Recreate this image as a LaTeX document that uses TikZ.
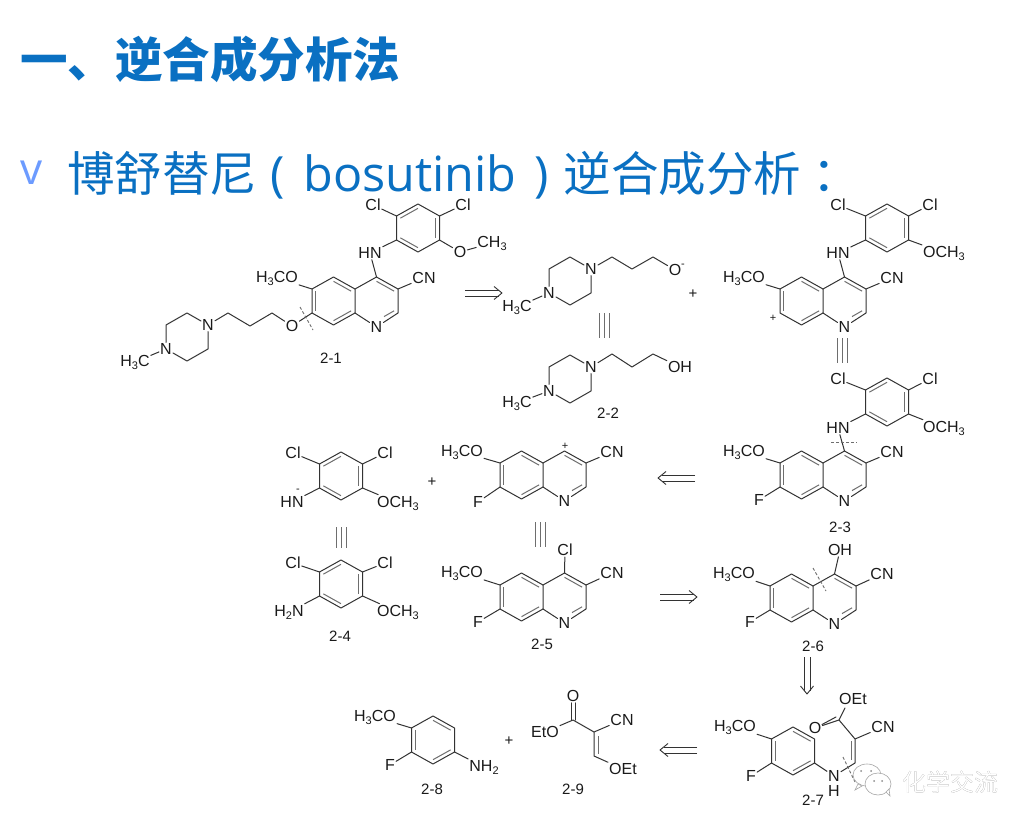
\documentclass[tikz,border=0pt]{standalone}
\usepackage{fontspec}
\setmainfont{Liberation Sans}
\newfontfamily\cjk{Noto Sans CJK SC}
\newfontfamily\latinhead{Open Sans}
\usetikzlibrary{calc}
\definecolor{bondc}{HTML}{333333}
\definecolor{innc}{HTML}{6E6E6E}
\definecolor{labc}{HTML}{1A1A1A}
\definecolor{headblue}{HTML}{0A70C2}
\definecolor{bulletblue}{HTML}{6C9BFF}
\newcommand\sbt[1]{\raisebox{-3pt}{\fontsize{11}{11}\selectfont #1}}
\newcommand\hexpts{%
  \coordinate (-o) at (0,0);
  \coordinate (-t) at (0,-24);
  \coordinate (-ur) at (21.5,-12);
  \coordinate (-lr) at (21.5,12);
  \coordinate (-b) at (0,24);
  \coordinate (-ll) at (-21.5,12);
  \coordinate (-ul) at (-21.5,-12);
  \draw[bond] (-t) -- (-ur) -- (-lr) -- (-b) -- (-ll) -- (-ul) -- cycle;}
\newcommand\innline[3]{\draw[inn] ($(#1)!.18!(#3)$) -- ($(#2)!.18!(#3)$);}
\tikzset{
  bond/.style={draw=bondc,line width=1pt,line cap=round,line join=round},
  inn/.style={draw=innc,line width=1pt},
  lab/.style={inner sep=1pt,text=labc,font=\fontsize{16}{16}\selectfont},
  tag/.style={inner sep=1pt,text=labc,font=\fontsize{15}{15}\selectfont},
  chg/.style={inner sep=0pt,text=labc,font=\fontsize{11}{11}\selectfont},
  plusn/.style={inner sep=0pt,text=labc,font=\fontsize{15}{15}\selectfont},
  cut/.style={draw=innc,line width=0.9pt,dash pattern=on 3pt off 2pt},
  retrol/.style={draw=bondc,line width=0.9pt,line join=round},
  retroar/.pic={
    \draw[retrol] (0,-3) -- (33.5,-3) (0,3) -- (33.5,3);
    \draw[retrol] (29,-6.5) -- (37,0) -- (29,6.5);
  },
  eqv/.style={draw=innc,line width=1pt},
  benA/.pic={\hexpts \innline{-ul}{-t}{-o} \innline{-ur}{-lr}{-o} \innline{-ll}{-b}{-o}},
  benB/.pic={\hexpts \innline{-ul}{-ll}{-o} \innline{-t}{-ur}{-o} \innline{-lr}{-b}{-o}},
  quin/.pic={
    \coordinate (-lo) at (-21.5,0);
    \coordinate (-ro) at (21.5,0);
    \coordinate (-c4a) at (0,-12);
    \coordinate (-c8a) at (0,12);
    \coordinate (-c5) at (-21.5,-24);
    \coordinate (-c6) at (-43,-12);
    \coordinate (-c7) at (-43,12);
    \coordinate (-c8) at (-21.5,24);
    \coordinate (-c4) at (21.5,-24);
    \coordinate (-c3) at (43,-12);
    \coordinate (-c2) at (43,12);
    \node[lab] (-n) at (21.5,26) {N};
    \draw[bond] (-c4a) -- (-c5) -- (-c6) -- (-c7) -- (-c8) -- (-c8a) -- cycle;
    \draw[bond] (-c4a) -- (-c4) -- (-c3) -- (-c2) -- (-n) -- (-c8a);
    \innline{-c6}{-c7}{-lo}
    \innline{-c5}{-c4a}{-lo}
    \innline{-c8}{-c8a}{-lo}
    \innline{-c4}{-c3}{-ro}
    \draw[inn] (39.1,9.8) -- (29,15.6);
  },
  pip/.pic={
    \node[lab] (-n1) at (21,-12) {N};
    \node[lab] (-n4) at (-21,12) {N};
    \coordinate (-a) at (0,-24);
    \coordinate (-b) at (-21,-12);
    \coordinate (-c) at (0,24);
    \coordinate (-d) at (21,12);
    \draw[bond] (-n1) -- (-a) -- (-b) -- (-n4) -- (-c) -- (-d) -- (-n1);
  }
}
\begin{document}
\begin{tikzpicture}[x=1pt,y=-1pt]
\useasboundingbox (0,0) rectangle (1033,826);
\fill[white] (0,0) rectangle (1033,826);

% headings
\node[anchor=west,inner sep=0pt,text=headblue,font=\fontsize{47.5}{47.5}\selectfont\cjk\bfseries] (title) at (20,59) {一、逆合成分析法};
\node[anchor=west,inner sep=0pt,text=bulletblue,font=\fontsize{44}{44}\selectfont\latinhead] (bul) at (20,173) {v};
\node[anchor=west,inner sep=0pt,text=headblue,font=\fontsize{47.5}{47.5}\selectfont\cjk] (sub) at (67,175) {博舒替尼\hspace{13pt}{\fontsize{48.5}{48.5}\selectfont\latinhead (\hspace{19pt}bosutinib\hspace{18pt})\hspace{15pt}}逆合成分析\hspace{11pt}：};

% ---------- 2-1
\pic (r1) at (418,228) {benA};
\pic (q1) at (355,301) {quin};
\pic (p1) at (187,337) {pip};
\node[lab] (c1a) at (373,205) {Cl};
\node[lab] (c1b) at (463,205) {Cl};
\node[lab] (hn1) at (370,253) {HN};
\node[lab] (o1) at (460,252) {O};
\node[lab] (me1) at (492,243) {CH\sbt{3}};
\node[lab] (mo1) at (277,278) {H\sbt{3}CO};
\node[lab] (cn1) at (424,278) {CN};
\node[lab] (ox1) at (292,326) {O};
\node[lab] (hc1) at (135,362) {H\sbt{3}C};
\node[tag] (t21) at (331,358) {2-1};
\coordinate (ch1a) at (228,313);
\coordinate (ch1b) at (250,326);
\coordinate (ch1c) at (272,313);
\draw[bond] (c1a) -- (r1-ul) (c1b) -- (r1-ur) (hn1) -- (r1-ll) (hn1) -- (q1-c4)
  (o1) -- (r1-lr) (o1) -- (me1) (mo1) -- (q1-c6) (q1-c3) -- (cn1)
  (p1-n4) -- (hc1) (p1-n1) -- (ch1a) -- (ch1b) -- (ch1c) -- (ox1) -- (q1-c7);
\coordinate (k1a) at (300,307);
\coordinate (k1b) at (313,330);
\draw[cut] (k1a) -- (k1b);

% ---------- arrow 1
\pic at (465,293) {retroar};

% ---------- O- piperazine
\pic (p2) at (570,281) {pip};
\node[lab] (hc2) at (517,307) {H\sbt{3}C};
\node[lab] (ox2) at (675,270) {O};
\node[chg] (mi2) at (683,266) {-};
\coordinate (ch2a) at (612,257);
\coordinate (ch2b) at (632,269);
\coordinate (ch2c) at (653,257);
\draw[bond] (p2-n4) -- (hc2) (p2-n1) -- (ch2a) -- (ch2b) -- (ch2c) -- (ox2);
\node[plusn] (pl1) at (693,294) {+};

% ---------- 2-2
\pic (p3) at (570,379) {pip};
\node[lab] (hc3) at (517,403) {H\sbt{3}C};
\node[lab] (oh3) at (680,367) {OH};
\coordinate (ch3a) at (612,354);
\coordinate (ch3b) at (632,367);
\coordinate (ch3c) at (653,354);
\draw[bond] (p3-n4) -- (hc3) (p3-n1) -- (ch3a) -- (ch3b) -- (ch3c) -- (oh3);
\node[tag] (t22) at (608,413) {2-2};
\foreach \xx in {599,604,609}{\draw[eqv] (\xx,313) -- (\xx,338);}

% ---------- cation top right
\pic (r2) at (887,228) {benA};
\pic (q2) at (823,301) {quin};
\node[lab] (c2a) at (838,205) {Cl};
\node[lab] (c2b) at (930,205) {Cl};
\node[lab] (hn2) at (838,253) {HN};
\node[lab] (me2) at (944,253) {OCH\sbt{3}};
\node[lab] (mo2) at (744,278) {H\sbt{3}CO};
\node[lab] (cn2) at (892,278) {CN};
\node[chg] (pl2) at (773,318) {+};
\draw[bond] (c2a) -- (r2-ul) (c2b) -- (r2-ur) (hn2) -- (r2-ll) (hn2) -- (q2-c4)
  (me2) -- (r2-lr) (mo2) -- (q2-c6) (q2-c3) -- (cn2);
\foreach \xx in {837,842,847}{\draw[eqv] (\xx,338) -- (\xx,363);}

% ---------- 2-3
\pic (r3) at (887,402) {benA};
\pic (q3) at (823,475) {quin};
\node[lab] (c3a) at (838,379) {Cl};
\node[lab] (c3b) at (930,379) {Cl};
\node[lab] (hn3) at (838,428) {HN};
\node[lab] (me3) at (944,428) {OCH\sbt{3}};
\node[lab] (mo3) at (744,452) {H\sbt{3}CO};
\node[lab] (cn3) at (892,452) {CN};
\node[lab] (f3) at (759,500) {F};
\node[tag] (t23) at (840,527) {2-3};
\draw[bond] (c3a) -- (r3-ul) (c3b) -- (r3-ur) (hn3) -- (r3-ll) (hn3) -- (q3-c4)
  (me3) -- (r3-lr) (mo3) -- (q3-c6) (q3-c3) -- (cn3) (f3) -- (q3-c7);
\coordinate (k3a) at (831,442);
\coordinate (k3b) at (857,442);
\draw[cut] (k3a) -- (k3b);

% ---------- arrow 2
\pic[rotate=180] at (695,478) {retroar};

% ---------- HN- amide anion
\pic (r4) at (341,476) {benA};
\node[lab] (c4a) at (293,453) {Cl};
\node[lab] (c4b) at (385,453) {Cl};
\node[lab] (hn4) at (292,502) {HN};
\node[chg] (mi4) at (298,491) {-};
\node[lab] (me4) at (398,503) {OCH\sbt{3}};
\draw[bond] (c4a) -- (r4-ul) (c4b) -- (r4-ur) (hn4) -- (r4-ll) (me4) -- (r4-lr);
\node[plusn] (pl3) at (432,482) {+};

% ---------- quinoline cation
\pic (q4) at (543,475) {quin};
\node[lab] (mo4) at (462,452) {H\sbt{3}CO};
\node[lab] (cn4) at (612,452) {CN};
\node[lab] (f4) at (478,502) {F};
\node[chg] (pl4) at (565,446) {+};
\draw[bond] (mo4) -- (q4-c6) (q4-c3) -- (cn4) (f4) -- (q4-c7);
\foreach \xx in {336,341,346}{\draw[eqv] (\xx,527) -- (\xx,548);}
\foreach \xx in {535,540,545}{\draw[eqv] (\xx,522) -- (\xx,547);}

% ---------- 2-4
\pic (r5) at (341,584) {benA};
\node[lab] (c5a) at (293,563) {Cl};
\node[lab] (c5b) at (385,563) {Cl};
\node[lab] (nh5) at (289,612) {H\sbt{2}N};
\node[lab] (me5) at (398,612) {OCH\sbt{3}};
\node[tag] (t24) at (340,636) {2-4};
\draw[bond] (c5a) -- (r5-ul) (c5b) -- (r5-ur) (nh5) -- (r5-ll) (me5) -- (r5-lr);

% ---------- 2-5
\pic (q5) at (543,597) {quin};
\node[lab] (mo5) at (462,573) {H\sbt{3}CO};
\node[lab] (cn5) at (612,573) {CN};
\node[lab] (cl5) at (565,550) {Cl};
\node[lab] (f5) at (478,622) {F};
\node[tag] (t25) at (542,644) {2-5};
\draw[bond] (mo5) -- (q5-c6) (q5-c3) -- (cn5) (f5) -- (q5-c7) (cl5) -- (q5-c4);

% ---------- arrow 3
\pic at (660,597) {retroar};

% ---------- 2-6
\pic (q6) at (813,598) {quin};
\node[lab] (mo6) at (734,574) {H\sbt{3}CO};
\node[lab] (cn6) at (882,574) {CN};
\node[lab] (oh6) at (840,550) {OH};
\node[lab] (f6) at (750,622) {F};
\node[tag] (t26) at (813,646) {2-6};
\draw[bond] (mo6) -- (q6-c6) (q6-c3) -- (cn6) (f6) -- (q6-c7) (oh6) -- (q6-c4);
\coordinate (k6a) at (813,568);
\coordinate (k6b) at (826,591);
\draw[cut] (k6a) -- (k6b);

% ---------- arrow 4
\pic[rotate=-90] at (807,657) {retroar};

% ---------- 2-7
\pic (r7) at (793,751) {benB};
\node[lab] (mo7) at (735,727) {H\sbt{3}CO};
\node[lab] (f7) at (751,776) {F};
\node[lab] (n7) at (834,776) {N};
\node[lab] (h7) at (834,791) {H};
\node[lab] (oe7) at (853,699) {OEt};
\node[lab] (od7) at (815,728) {O};
\node[lab] (cn7) at (883,727) {CN};
\node[tag] (t27) at (813,800) {2-7};
\coordinate (v7a) at (855,763);
\coordinate (v7b) at (855,739);
\coordinate (v7c) at (839,720);
\draw[bond] (mo7) -- (r7-ul) (f7) -- (r7-ll) (r7-lr) -- (n7) -- (v7a) -- (v7b) -- (cn7)
  (v7b) -- (v7c) -- (845,708);
\draw[bond] (v7c) -- (od7);
\draw[inn] (851,760) -- (851,741);
\draw[bond] (836,717) -- (822,724.5);
\coordinate (k7a) at (843,757);
\coordinate (k7b) at (855,782);
\draw[cut] (k7a) -- (k7b);

% ---------- arrow 5
\pic[rotate=180] at (697,750) {retroar};

% ---------- 2-8
\pic (r8) at (433,740) {benB};
\node[lab] (mo8) at (375,717) {H\sbt{3}CO};
\node[lab] (f8) at (390,765) {F};
\node[lab] (nh8) at (484,767) {NH\sbt{2}};
\node[tag] (t28) at (432,789) {2-8};
\draw[bond] (mo8) -- (r8-ul) (f8) -- (r8-ll) (r8-lr) -- (nh8);
\node[plusn] (pl5) at (509,741) {+};

% ---------- 2-9
\node[lab] (ox9) at (573,696) {O};
\node[lab] (eo9) at (545,732) {EtO};
\node[lab] (cn9) at (622,720) {CN};
\node[lab] (oe9) at (623,769) {OEt};
\node[tag] (t29) at (573,789) {2-9};
\coordinate (v9a) at (573,720);
\coordinate (v9b) at (594,732);
\coordinate (v9c) at (594,756);
\draw[bond] (eo9) -- (v9a) -- (v9b) -- (cn9) (v9b) -- (v9c) -- (oe9);
\draw[bond] ([xshift=2pt]v9a) -- ([xshift=2pt]ox9.south);
\draw[bond] ([xshift=-2pt]v9a) -- ([xshift=-2pt]ox9.south);
\draw[inn] (598,736) -- (598,754);

% ---------- watermark
\begin{scope}[draw=black!35,line width=0.6pt,fill=white]
\filldraw (867,775) ellipse [x radius=14,y radius=11];
\filldraw (858,784) -- (855,790) -- (862,786) -- cycle;
\filldraw (878,784) ellipse [x radius=13,y radius=11];
\filldraw (886,792) -- (890,796) -- (889,789) -- cycle;
\end{scope}
\fill[black!45] (861,771) circle (1) (871,771) circle (1) (874,781) circle (1) (882,781) circle (1);
\node[inner sep=0pt,text=black!55,font=\fontsize{24}{24}\selectfont\cjk] (wm2) at (950.7,782.7) {化学交流};
\node[inner sep=0pt,text=white,font=\fontsize{24}{24}\selectfont\cjk] (wm) at (950,782) {化学交流};
\end{tikzpicture}
\end{document}
